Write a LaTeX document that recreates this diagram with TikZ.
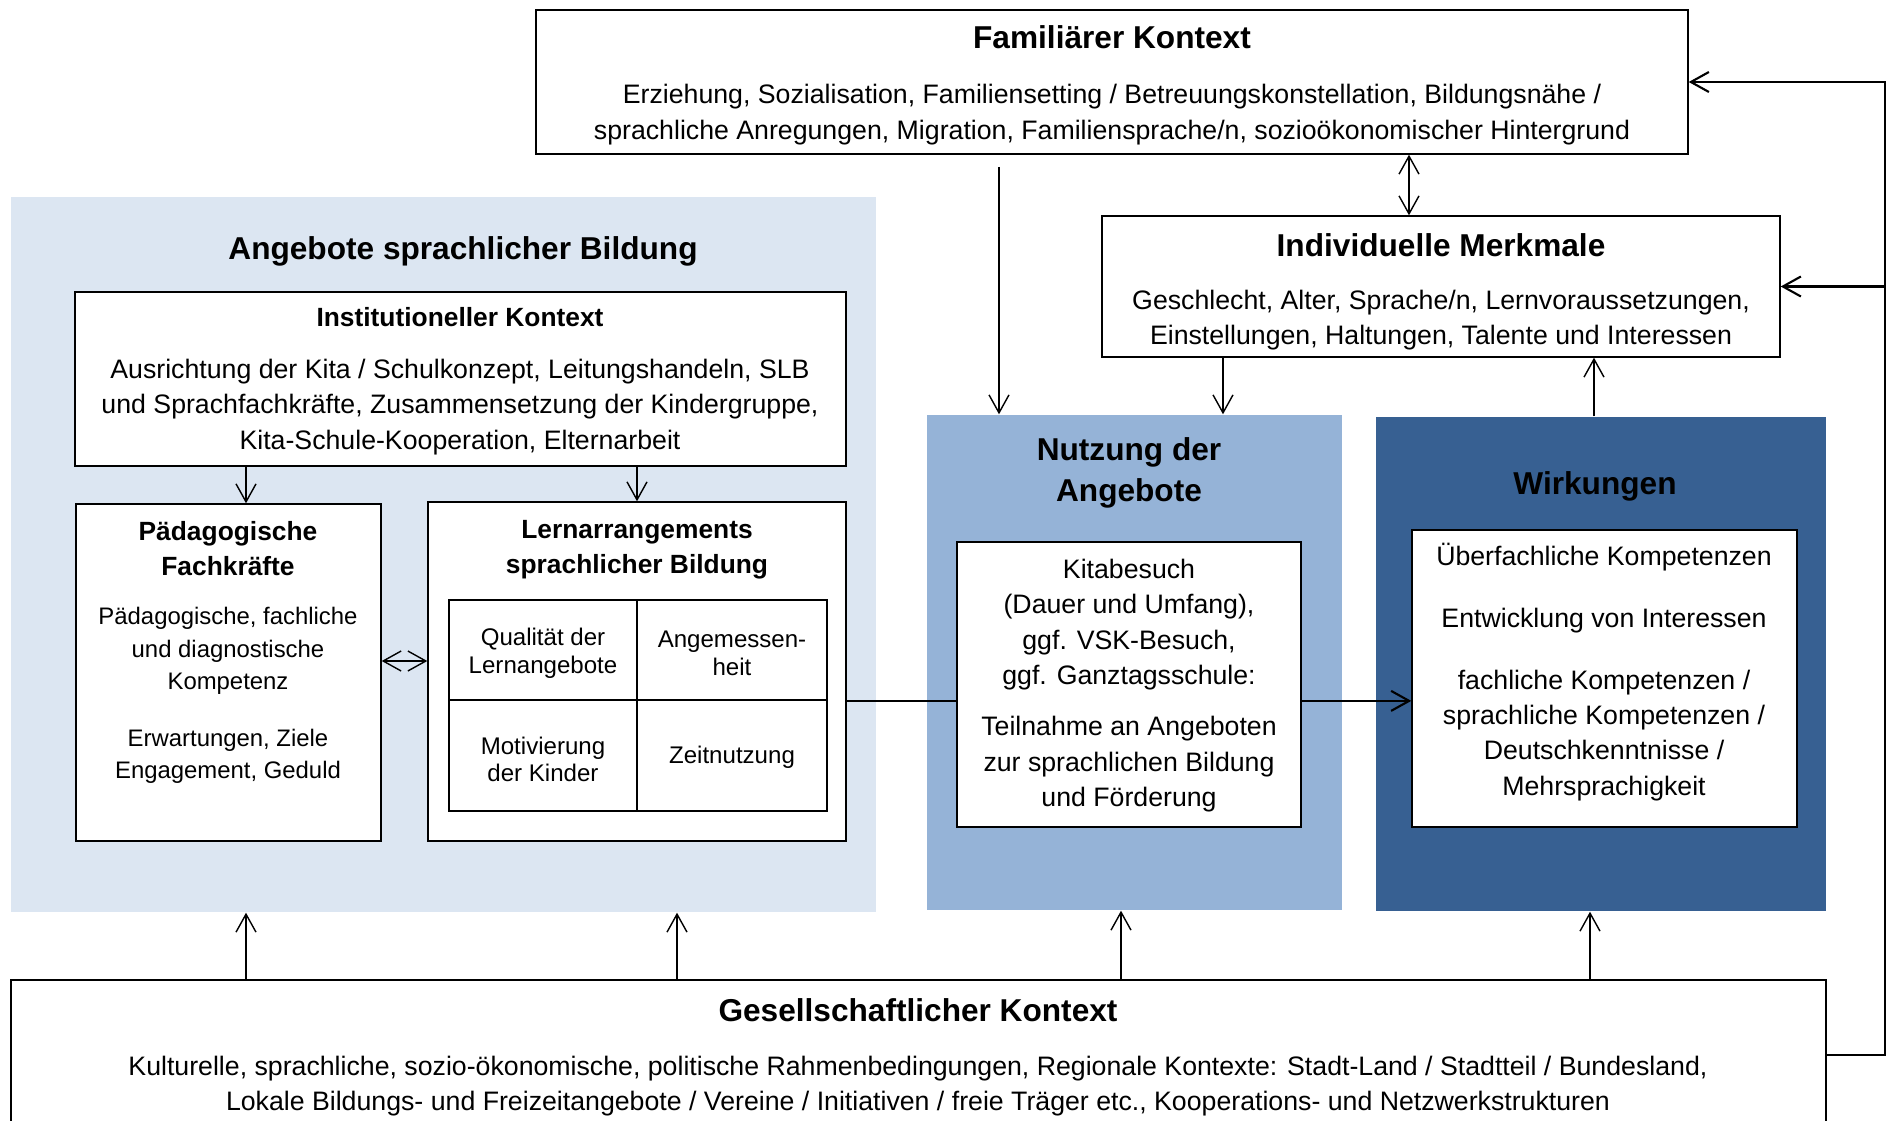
\documentclass[tikz,border=0pt]{standalone}
\usepackage{fontspec}
\setmainfont{Liberation Sans}
\usetikzlibrary{arrows.meta,fit}
\definecolor{angebot}{HTML}{DCE6F2}
\definecolor{nutzung}{HTML}{95B3D7}
\definecolor{wirkung}{HTML}{376092}
\tikzset{
  box/.style={draw, fill=white, inner sep=0pt, line width=0.8pt},
  panel/.style={inner sep=0pt},
  ttl/.style={font=\fontsize{18}{23.2}\selectfont\bfseries, align=center, inner sep=0pt},
  sttl/.style={font=\fontsize{15}{19.9}\selectfont\bfseries, align=center, inner sep=0pt},
  txt/.style={font=\fontsize{15.2}{20.2}\selectfont, align=center, inner sep=0pt},
  stxt/.style={font=\fontsize{13.6}{18.4}\selectfont, align=center, inner sep=0pt},
  cell/.style={draw, inner sep=0pt, line width=1pt},
  celltxt/.style={font=\fontsize{13.7}{15.8}\selectfont, align=center, inner sep=0pt},
  heavy/.style={line width=1.2pt},
}
\begin{document}
\begin{tikzpicture}[x=0.02cm, y=-0.02cm, >={Straight Barb[length=3.6mm,width=4mm]}, line width=0.8pt]
        \clip (0,0) rectangle (1892,1121);
        %
        % coloured panels
        \node[panel, fill=angebot, fit={(11,197) (876,912)}] (ang) {};
        \node[panel, fill=nutzung, fit={(927,415) (1342,910)}] (nutz) {};
        \node[panel, fill=wirkung, fit={(1376,417) (1826,911)}] (wirk) {};
        %
        % familiaerer kontext
        \node[box, fit={(536,10) (1688,154)}] (fam) {};
        \node[ttl] (famT) at (1112,37) {Familiärer Kontext};
        \node[txt] (famB) at (1112,114.5) {Erziehung, Sozialisation, Familiensetting / Betreuungskonstellation, Bildungsnähe /\\sprachliche Anregungen, Migration, Familiensprache/n, sozioökonomischer Hintergrund};
        %
        % individuelle merkmale
        \node[box, fit={(1102,216) (1780,357)}] (indiv) {};
        \node[ttl] (indT) at (1441,245) {Individuelle Merkmale};
        \node[txt] (indB) at (1441,320) {Geschlecht, Alter, Sprache/n, Lernvoraussetzungen,\\Einstellungen, Haltungen, Talente und Interessen};
        %
        % angebote
        \node[ttl] (angT) at (463,251) {Angebote sprachlicher Bildung};
        \node[box, fit={(75,292) (846,466)}] (inst) {};
        \node[sttl] (instT) at (460,317) {Institutioneller Kontext};
        \node[txt] (instB) at (460,407) {Ausrichtung der Kita / Schulkonzept, Leitungshandeln, SLB\\und Sprachfachkräfte, Zusammensetzung der Kindergruppe,\\Kita-Schule-Kooperation, Elternarbeit};
        %
        \node[box, fit={(76,504) (381,841)}] (paed) {};
        \node[sttl] (paedT) at (228,549) {Pädagogische\\Fachkräfte};
        \node[stxt] (paedB) at (228,651) {Pädagogische, fachliche\\und diagnostische\\Kompetenz};
        \node[stxt] (paedC) at (228,756) {Erwartungen, Ziele\\Engagement, Geduld};
        %
        \node[box, fit={(428,502) (846,841)}] (lern) {};
        \node[sttl] (lernT) at (637,550) {Lernarrangements\\sprachlicher Bildung};
        \node[cell, fit={(449,600) (637,700)}] (c11) {};
        \node[cell, fit={(637,600) (827,700)}] (c12) {};
        \node[cell, fit={(449,700) (637,811)}] (c21) {};
        \node[cell, fit={(637,700) (827,811)}] (c22) {};
        \node[celltxt] (c11T) at (543,653.5) {Qualität der\\Lernangebote};
        \node[celltxt] (c12T) at (732,653.5) {Angemessen-\\heit};
        \node[celltxt] (c21T) at (543,759.5) {Motivierung\\der Kinder};
        \node[celltxt] (c22T) at (732,757) {Zeitnutzung};
        %
        % nutzung
        \node[ttl] (nutzT) at (1129,473) {Nutzung der\\Angebote};
        \node[box, fit={(957,542) (1301,827)}] (nutzIn) {};
        \node[txt] (nutzB) at (1129,685.5) {Kitabesuch\\(Dauer und Umfang),\\ggf. VSK-Besuch,\\ggf. Ganztagsschule:\\[9pt]Teilnahme an Angeboten\\zur sprachlichen Bildung\\und Förderung};
        %
        % wirkungen
        \node[ttl] (wirkT) at (1595,486) {Wirkungen};
        \node[box, fit={(1412,530) (1797,827)}] (wirkIn) {};
        \node[txt] (wirkB) at (1604,672) {Überfachliche Kompetenzen\\[15pt]Entwicklung von Interessen\\[15pt]fachliche Kompetenzen /\\sprachliche Kompetenzen /\\Deutschkenntnisse /\\Mehrsprachigkeit};
        %
        % gesellschaftlicher kontext
        \node[box, fit={(11,980) (1826,1130)}] (soc) {};
        \node[ttl] (socT) at (918,1010) {Gesellschaftlicher Kontext};
        \node[txt] (socB) at (918,1086) {Kulturelle, sprachliche, sozio-ökonomische, politische Rahmenbedingungen, Regionale Kontexte: Stadt-Land / Stadtteil / Bundesland,\\Lokale Bildungs- und Freizeitangebote / Vereine / Initiativen / freie Träger etc., Kooperations- und Netzwerkstrukturen};
        %
        % arrows
        \coordinate (fa) at (999,167);
        \coordinate (rx) at (1885,0);
        \draw[->] (fa) -- (fa |- nutz.north);
        \draw[<->] (fam.south -| 1409,0) -- (indiv.north -| 1409,0);
        \draw[->] (indiv.south -| 1223,0) -- (nutz.north -| 1223,0);
        \draw[->] (wirk.north -| 1594,0) -- (indiv.south -| 1594,0);
        \draw[->] (inst.south -| 246,0) -- (paed.north -| 246,0);
        \draw[->] (inst.south -| lern.north) -- (lern.north);
        \draw[<->] (paed.east |- 0,661) -- (lern.west |- 0,661);
        \draw[heavy] (lern.east |- c11.south) -- (nutzIn.west |- c11.south);
        \draw[heavy,->] (nutzIn.east |- c11.south) -- (wirkIn.west |- c11.south);
        \foreach \x/\t in {246/ang, 677/ang, 1121/nutz, 1590/wirk}
            \draw[->] (soc.north -| \x,0) -- (\t.south -| \x,0);
        \draw[heavy,->] (soc.east) -| (rx |- fam.east) -- (fam.east);
        \draw[heavy,->] (rx |- indiv.east) -- (indiv.east);
\end{tikzpicture}
\end{document}
